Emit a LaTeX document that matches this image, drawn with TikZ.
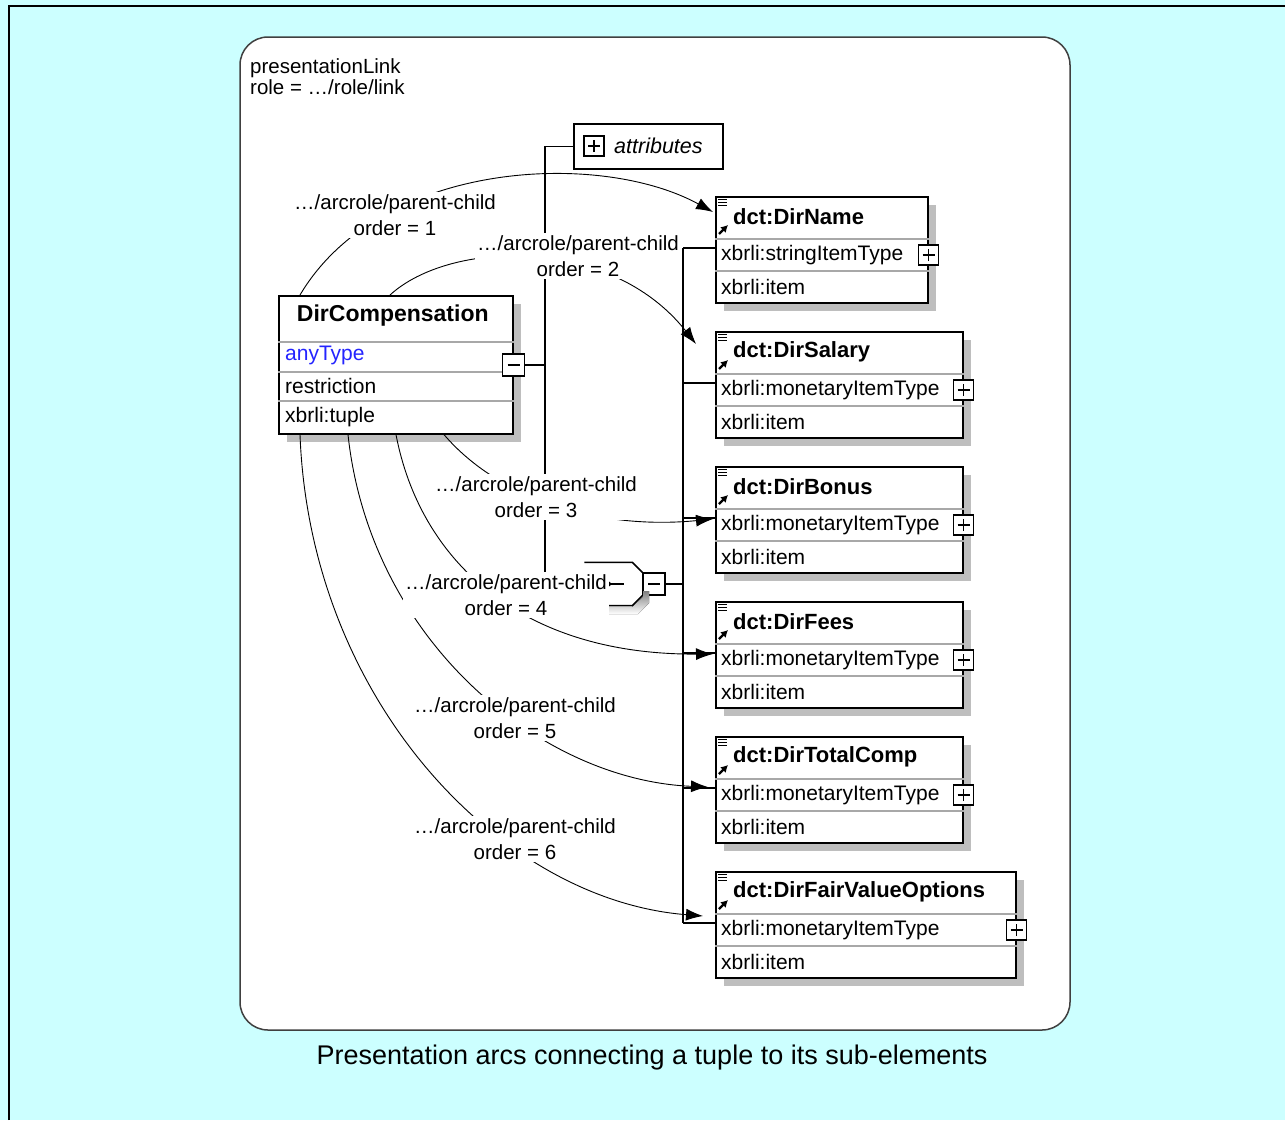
\documentclass[tikz,border=0pt]{standalone}
\usepackage{fontspec}
\setmainfont{Liberation Sans}
\usetikzlibrary{arrows.meta,calc,shadows}

\definecolor{bgcyan}{HTML}{CCFFFF}
\definecolor{shade}{HTML}{BEBEBE}
\definecolor{rowsep}{HTML}{A8A8A8}
\definecolor{typeblue}{HTML}{2424FF}
\definecolor{panelline}{HTML}{404040}

\tikzset{
  boxframe/.style={draw=black, line width=1.6pt, fill=white, inner sep=0pt, anchor=north west,
    drop shadow={shadow xshift=8pt, shadow yshift=-8pt, opacity=1, fill=shade}},
  rowline/.style={draw=rowsep, line width=1.2pt},
  pmbox/.style={draw=black, line width=1.3pt, fill=white, minimum size=20pt, inner sep=0pt},
  plusbox/.style={pmbox, path picture={
      \draw[line width=1.2pt] ([xshift=-6pt]path picture bounding box.center) -- ([xshift=6pt]path picture bounding box.center);
      \draw[line width=1.2pt] ([yshift=-6pt]path picture bounding box.center) -- ([yshift=6pt]path picture bounding box.center);}},
  minusbox/.style={pmbox, path picture={
      \draw[line width=1.2pt] ([xshift=-6pt]path picture bounding box.center) -- ([xshift=6pt]path picture bounding box.center);}},
  arcline/.style={draw=black, line width=0.9pt, -{Latex[length=17pt,width=12pt]}},
  arclabel/.style={fill=white, align=center, inner sep=2pt, font=\fontsize{20.5}{26}\selectfont},
  boxtext/.style={anchor=west, inner sep=0pt, font=\fontsize{21}{24}\selectfont},
  boxtitle/.style={anchor=west, inner sep=0pt, font=\fontsize{22}{24}\selectfont\bfseries},
  treeline/.style={draw=black, line width=1.6pt},
}

% element box: name, left, top, width, title, type
\newcommand{\xsdelem}[6]{%
  \node[boxframe, minimum width=#4pt, minimum height=106pt] (#1) at (#2,#3) {};
  \draw[rowline] ([yshift=-43pt]#1.north west) -- ([yshift=-43pt]#1.north east);
  \draw[rowline] ([yshift=-75pt]#1.north west) -- ([yshift=-75pt]#1.north east);
  \node[boxtitle] (#1-name) at ([xshift=18pt,yshift=-21pt]#1.north west) {#5};
  \node[boxtext] (#1-type) at ([xshift=6pt,yshift=-59pt]#1.north west) {#6};
  \node[boxtext] (#1-kind) at ([xshift=6pt,yshift=-91pt]#1.north west) {xbrli:item};
  \node[plusbox] (#1-exp) at ([yshift=-59pt]#1.north east) {};
  \foreach \dy in {3.5,6.5,9.5}
    \draw[line width=1.2pt] ([xshift=3pt,yshift=-\dy pt]#1.north west) -- ++(9pt,0);
  \draw[line width=2.2pt, -{Latex[length=7pt,width=8pt]}]
    ([xshift=4pt,yshift=-38pt]#1.north west) -- ++(9pt,9pt);
  \coordinate (#1-in) at ([yshift=-52pt]#1.north west);
}

\begin{document}
\begin{tikzpicture}[x=1pt,y=-1pt]
  % page and frame
  \fill[bgcyan] (0,0) rectangle (1285,1120);
  \useasboundingbox (0,0) rectangle (1285,1120);
  \draw[line width=2.2pt] (9,1120) -- (9,6) -- (1285,6);

  % link panel
  \draw[panelline, line width=1.5pt, fill=white, rounded corners=28pt] (240,37) rectangle (1070,1030);
  \node[anchor=north west, align=left, inner sep=0pt, font=\fontsize{20.5}{21.5}\selectfont]
    (linkinfo) at (250,58) {presentationLink\\role = …/role/link};

  % tuple element
  \node[boxframe, minimum width=234pt, minimum height=138pt] (DirComp) at (278,295) {};
  \draw[rowline] ([yshift=-47pt]DirComp.north west) -- ([yshift=-47pt]DirComp.north east);
  \draw[rowline] ([yshift=-77pt]DirComp.north west) -- ([yshift=-77pt]DirComp.north east);
  \draw[rowline] ([yshift=-106pt]DirComp.north west) -- ([yshift=-106pt]DirComp.north east);
  \node[inner sep=0pt, font=\fontsize{23}{24}\selectfont\bfseries] (DirComp-name) at ([xshift=-3pt,yshift=-21pt]DirComp.north) {DirCompensation};
  \node[boxtext, text=typeblue] (DirComp-type) at ([xshift=7pt,yshift=-60pt]DirComp.north west) {anyType};
  \node[boxtext] (DirComp-deriv) at ([xshift=7pt,yshift=-91pt]DirComp.north west) {restriction};
  \node[boxtext] (DirComp-kind) at ([xshift=7pt,yshift=-122pt]DirComp.north west) {xbrli:tuple};
  \node[minusbox, minimum size=22pt] (DirComp-col) at ([yshift=-70pt]DirComp.north east) {};

  % content model tree
  \coordinate (spine) at (545,0);
  \node[draw=black, line width=1.6pt, fill=white, anchor=north west, minimum width=149pt, minimum height=45pt] (attrs) at (573,123) {};
  \node[plusbox] (attrs-exp) at (594,146) {};
  \node[anchor=west, inner sep=0pt, font=\fontsize{21.5}{24}\selectfont\itshape] (attrs-text) at (614,146) {attributes};

  \draw[treeline] (DirComp-col.east) -- (DirComp-col.east -| spine);
  \draw[treeline] (attrs.west -| spine) -- (attrs.west);

  % sequence compositor
  \node[minusbox, minimum size=22pt] (seq) at (654,584) {};
  \fill[shade] (596,614) -- (638,614) -- (649,603) -- (649,591) -- (643,591) -- (643,597) -- (632,607) -- (596,607) -- cycle;
  \draw[line width=1.6pt] (seq.north west) -- ++(-10,-10) -- ++(-48,0);
  \draw[line width=1.6pt] (seq.south west) -- ++(-10,10) -- ++(-48,0);
  \coordinate (seq-in) at ([xshift=-70pt]seq.west);
  \draw[treeline] (attrs.west -| spine) -- (seq-in -| spine) -- (seq-in);
  \fill ([xshift=-34pt]seq.west) circle (2.6pt);
  \draw[line width=1.4pt] ([xshift=-34pt]seq.west) -- ([xshift=-18pt]seq.west);

  % arc sources on the tuple
  \coordinate (s1) at ([xshift=22pt]DirComp.north west);
  \coordinate (s2) at ([xshift=112pt]DirComp.north west);
  \coordinate (s3) at ([xshift=166pt]DirComp.south west);
  \coordinate (s4) at ([xshift=118pt]DirComp.south west);
  \coordinate (s5) at ([xshift=70pt]DirComp.south west);
  \coordinate (s6) at ([xshift=22pt]DirComp.south west);

  % arc targets
  \coordinate (t1) at (713,212);
  \coordinate (t2) at (696,344);
  \coordinate (t3) at (713,519);
  \coordinate (t4) at (713,654);
  \coordinate (t5) at (708,787);
  \coordinate (t6) at (703,916);

  % presentation arcs
  \draw[arcline] (s1) .. controls (380,160) and (600,150) .. (t1);
  \draw[arcline] (s2) .. controls (450,240) and (610,235) .. (t2);
  \draw[arcline] (s3) .. controls (500,500) and (600,530) .. (t3);
  \draw[arcline] (s4) .. controls (420,560) and (520,655) .. (t4);
  \draw[arcline] (s5) .. controls (370,640) and (540,780) .. (t5);
  \draw[arcline] (s6) .. controls (310,700) and (500,900) .. (t6);

  % arc labels
  \node[arclabel] (l1) at (395,215) {…/arcrole/parent-child\\order = 1};
  \node[arclabel] (l2) at (578,256) {…/arcrole/parent-child\\order = 2};
  \node[arclabel] (l3) at (536,497) {…/arcrole/parent-child\\order = 3};
  \node[arclabel] (l4) at (506,595) {…/arcrole/parent-child\\order = 4};
  \node[arclabel] (l5) at (515,718) {…/arcrole/parent-child\\order = 5};
  \node[arclabel] (l6) at (515,839) {…/arcrole/parent-child\\order = 6};

  % sub-elements
  \xsdelem{DirName}{715}{196}{212}{dct:DirName}{xbrli:stringItemType}
  \xsdelem{DirSalary}{715}{331}{247}{dct:DirSalary}{xbrli:monetaryItemType}
  \xsdelem{DirBonus}{715}{466}{247}{dct:DirBonus}{xbrli:monetaryItemType}
  \xsdelem{DirFees}{715}{601}{247}{dct:DirFees}{xbrli:monetaryItemType}
  \xsdelem{DirTotalComp}{715}{736}{247}{dct:DirTotalComp}{xbrli:monetaryItemType}
  \xsdelem{DirFairValue}{715}{871}{300}{dct:DirFairValueOptions}{xbrli:monetaryItemType}

  % sequence bus
  \coordinate (bus) at (683,0);
  \draw[treeline] (DirName-in -| bus) -- (DirFairValue-in -| bus);
  \draw[treeline] (seq.east) -- (seq.east -| bus);
  \foreach \e in {DirName,DirSalary,DirBonus,DirFees,DirTotalComp,DirFairValue}
    \draw[treeline] (\e-in -| bus) -- (\e-in);

  % caption
  \node[font=\fontsize{27}{30}\selectfont] (caption) at (652,1058) {Presentation arcs connecting a tuple to its sub-elements};
\end{tikzpicture}
\end{document}
